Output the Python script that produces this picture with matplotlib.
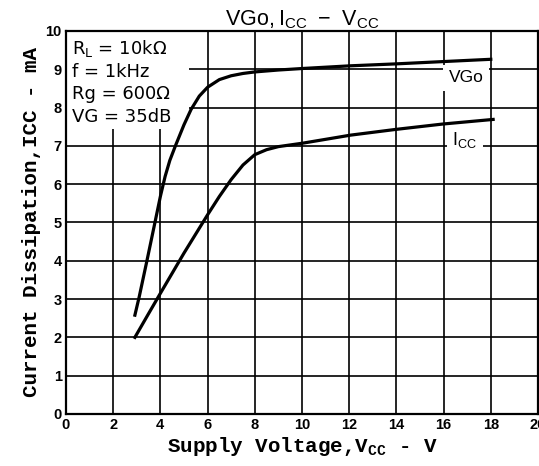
import matplotlib
matplotlib.use("Agg")
import matplotlib.pyplot as plt
from matplotlib.patches import Rectangle

# data
vgo_x = [2.92, 3.1, 3.43, 3.77, 4.0, 4.2, 4.4, 4.65, 5.0, 5.3, 5.65, 6.0, 6.5, 7.0, 7.5, 8.0, 9.0, 10.03, 12.06, 13.98, 15.97, 18.0]
vgo_y = [2.58, 3.05, 4.0, 5.0, 5.68, 6.2, 6.62, 7.02, 7.55, 7.95, 8.3, 8.53, 8.73, 8.83, 8.89, 8.93, 8.98, 9.02, 9.09, 9.14, 9.2, 9.26]

icc_x = [2.92, 3.5, 4.0, 5.0, 6.0, 6.5, 7.0, 7.5, 8.0, 8.5, 9.0, 10.03, 12.06, 13.98, 15.97, 18.1]
icc_y = [2.0, 2.62, 3.15, 4.2, 5.2, 5.68, 6.12, 6.5, 6.77, 6.9, 6.98, 7.07, 7.28, 7.43, 7.57, 7.69]

x_ticks = list(range(0, 21, 2))
y_ticks = list(range(0, 11))
conditions = [r"R$\mathregular{_L}$ = 10kΩ", "f = 1kHz", "Rg = 600Ω", "VG = 35dB"]

MONO = ["Liberation Mono", "DejaVu Sans Mono"]
NARROW = ["Liberation Sans Narrow", "Liberation Sans", "DejaVu Sans"]

fig = plt.figure(figsize=(5.39, 4.66), dpi=100)
ax = fig.add_axes([0.1224, 0.1116, 0.8757, 0.822])
ax.set_xlim(0, 20)
ax.set_ylim(0, 10)
ax.set_xticks(x_ticks)
ax.set_yticks(y_ticks)
ax.set_axisbelow(True)
ax.grid(True, color="black", linewidth=1.2)
ax.tick_params(length=0, pad=3)
for lbl in ax.get_xticklabels() + ax.get_yticklabels():
    lbl.set_fontweight("bold")
    lbl.set_fontsize(10.5)
    lbl.set_family(NARROW)
for s in ax.spines.values():
    s.set_linewidth(1.6)

# white area behind the conditions text
ax.add_patch(Rectangle((0, 7.45), 5.2, 2.55, facecolor="white",
                       edgecolor="none", zorder=1))

ax.plot(vgo_x, vgo_y, color="black", linewidth=2.3, zorder=3)
ax.plot(icc_x, icc_y, color="black", linewidth=2.3, zorder=3)

ax.text(16.95, 8.78, "VGo", fontsize=12.5, family=NARROW, ha="center", va="center",
        bbox=dict(facecolor="white", edgecolor="none", pad=4), zorder=2)
ax.text(16.9, 7.15, r"$\mathregular{I_{CC}}$", fontsize=13, family=NARROW,
        ha="center", va="center",
        bbox=dict(facecolor="white", edgecolor="none", pad=4), zorder=2)

for i, txt in enumerate(conditions):
    ax.text(0.25, 9.53 - i * 0.59, txt, fontsize=13, family="DejaVu Sans",
            ha="left", va="center", zorder=2)

ax.set_title(r"$\mathregular{VGo,I_{CC}\ -\ V_{CC}}$", fontsize=15.5,
             family=NARROW, pad=2)
ax.set_xlabel(r"Supply Voltage,V$\mathregular{_{CC}}$ - V", fontsize=15,
              fontweight="bold", family=MONO, labelpad=2)
ax.set_ylabel("Current Dissipation,ICC - mA", fontsize=15,
              fontweight="bold", family=MONO, labelpad=3)

fig.savefig("out.png", dpi=100)
